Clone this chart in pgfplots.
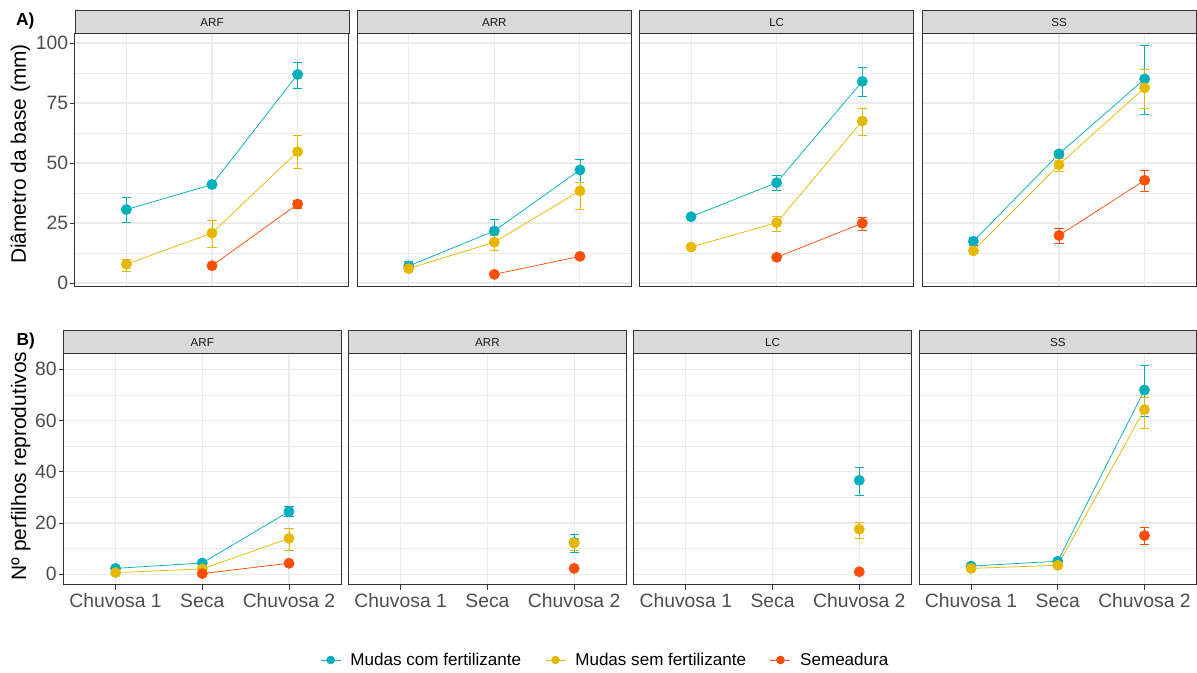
\documentclass[border=0pt]{standalone}
\usepackage{pgfplots}
\pgfplotsset{compat=1.18}
\usepackage{fontspec}
\setmainfont{Liberation Sans}

\definecolor{cTeal}{HTML}{00AFBB}
\definecolor{cGold}{HTML}{E7B800}
\definecolor{cRed}{HTML}{FC4E07}
\definecolor{gridgray}{HTML}{EBEBEB}
\definecolor{framegray}{HTML}{333333}
\definecolor{stripgray}{HTML}{D9D9D9}
\definecolor{ticktext}{HTML}{4D4D4D}

\pgfplotsset{
  facet/.style={
    scale only axis, anchor=south west,
    xmin=0.4, xmax=3.6, xtick={1,2,3},
    grid=both, minor y tick num=1,
    major grid style={draw=gridgray, line width=0.8pt},
    minor grid style={draw=gridgray, line width=0.45pt},
    axis line style={draw=framegray, line width=0.75pt},
    tick align=outside, major tick length=3.5pt, minor tick length=0pt,
    tick style={draw=framegray, line width=0.6pt},
    tick pos=left,
    ticklabel style={font=\fontsize{14.5}{16}\selectfont, text=ticktext},
    xticklabel style={inner sep=2.5pt, text height=10.6pt, text depth=3pt},
    yticklabel style={inner sep=1.5pt},
    /pgf/number format/assume math mode=true,
    clip=false,
  },
  toprow/.style={facet, width=205.5pt, height=189.75pt,
    ymin=-1.67, ymax=103.75, ytick={0,25,50,75,100},
    xticklabels={}, xtick style={draw=none}},
  botrow/.style={facet, width=208.125pt, height=173.25pt,
    ymin=-4.18, ymax=85.97, ytick={0,20,40,60,80},
    xticklabels={Chuvosa 1, Seca, Chuvosa 2}},
  inner/.style={yticklabels={}, ytick style={draw=none}},
  ser/.style={color=#1, line width=0.55pt, mark=*, mark size=3.9pt,
    mark options={fill=#1, draw=#1, line width=0.3pt}, forget plot,
    error bars/y dir=both, error bars/y explicit,
    error bars/error bar style={color=#1, line width=0.6pt},
    error bars/error mark options={rotate=90, mark size=3.4pt, line width=0.6pt, color=#1}},
}

% mean with upper (ep) and lower (em) error for each treatment
\newcommand\treat[2]{\addplot[ser=#1] table[row sep=\\, x=x, y=y, y error plus=ep, y error minus=em] {#2};}

\begin{document}
\begin{tikzpicture}
\useasboundingbox (0,0) rectangle (897.75pt,504.75pt);

% ---------------- A) basal diameter ----------------
\begin{axis}[toprow, at={(56.25pt,289.5pt)}]
\treat{cTeal}{x y ep em\\ 1 30.6 5.1 5.3\\ 2 41.0 0.8 0.8\\ 3 86.9 5.0 5.8\\}
\treat{cGold}{x y ep em\\ 1 7.8 2.2 2.8\\ 2 20.8 5.3 5.8\\ 3 54.7 6.8 6.9\\}
\treat{cRed}{x y ep em\\ 2 7.2 0.6 0.6\\ 3 32.9 1.7 1.8\\}
\end{axis}

\begin{axis}[toprow, inner, at={(268pt,289.5pt)}]
\treat{cTeal}{x y ep em\\ 1 7.1 1.7 1.5\\ 2 21.7 4.8 4.6\\ 3 47.1 4.6 5.0\\}
\treat{cGold}{x y ep em\\ 1 6.0 1.2 1.2\\ 2 17.0 2.9 3.5\\ 3 38.4 3.7 7.6\\}
\treat{cRed}{x y ep em\\ 2 3.6 0.5 0.5\\ 3 11.1 0.8 0.8\\}
\end{axis}

\begin{axis}[toprow, inner, at={(479.75pt,289.5pt)}]
\treat{cTeal}{x y ep em\\ 1 27.6 0.8 0.8\\ 2 41.8 2.9 3.2\\ 3 84.0 5.8 6.3\\}
\treat{cGold}{x y ep em\\ 1 15.0 0.8 0.8\\ 2 25.1 2.8 3.4\\ 3 67.5 5.3 5.8\\}
\treat{cRed}{x y ep em\\ 2 10.7 0.8 0.8\\ 3 24.9 2.4 2.9\\}
\end{axis}

\begin{axis}[toprow, inner, at={(691.5pt,289.5pt)}]
\treat{cTeal}{x y ep em\\ 1 17.4 1.7 1.7\\ 2 53.8 1.0 1.0\\ 3 85.0 14.0 14.7\\}
\treat{cGold}{x y ep em\\ 1 13.4 1.0 1.0\\ 2 49.3 2.5 2.8\\ 3 81.3 7.6 8.5\\}
\treat{cRed}{x y ep em\\ 2 19.8 2.8 3.2\\ 3 42.8 4.0 4.5\\}
\end{axis}

% ---------------- B) reproductive tillers ----------------
\begin{axis}[botrow, at={(47.625pt,66pt)},
  legend image code/.code={\draw[#1] (0pt,0pt) -- (15pt,0pt); \fill[#1] (7.5pt,0pt) circle (2.9pt);},
  legend style={at={(1.9514,-0.3247)}, anchor=center, draw=none, fill=none,
    legend columns=3, font=\fontsize{12.8}{14}\selectfont,
    nodes={inner sep=1pt, text=black},
    /tikz/every odd column/.append style={column sep=6pt},
    /tikz/every even column/.append style={column sep=17pt}},
  legend cell align=left]
\treat{cTeal}{x y ep em\\ 1 2.3 0.5 0.5\\ 2 4.4 0.6 0.6\\ 3 24.5 1.9 2.0\\}
\treat{cGold}{x y ep em\\ 1 0.65 0.4 0.4\\ 2 2.1 0.5 0.5\\ 3 14.0 3.8 4.5\\}
\treat{cRed}{x y ep em\\ 2 0.26 0.2 0.2\\ 3 4.3 0.5 0.5\\}
\addlegendimage{color=cTeal, line width=0.6pt}
\addlegendentry{Mudas com fertilizante}
\addlegendimage{color=cGold, line width=0.6pt}
\addlegendentry{Mudas sem fertilizante}
\addlegendimage{color=cRed, line width=0.6pt}
\addlegendentry{Semeadura}
\end{axis}

\begin{axis}[botrow, inner, at={(261.5pt,66pt)}]
\treat{cTeal}{x y ep em\\ 3 12.4 3.2 3.8\\}
\treat{cGold}{x y ep em\\ 3 12.2 1.8 2.7\\}
\treat{cRed}{x y ep em\\ 3 2.3 0.3 0.3\\}
\end{axis}

\begin{axis}[botrow, inner, at={(475.35pt,66pt)}]
\treat{cTeal}{x y ep em\\ 3 36.7 5.2 5.9\\}
\treat{cGold}{x y ep em\\ 3 17.6 2.6 3.6\\}
\treat{cRed}{x y ep em\\ 3 1.0 0.3 0.3\\}
\end{axis}

\begin{axis}[botrow, inner, at={(689.25pt,66pt)}]
\treat{cTeal}{x y ep em\\ 1 3.2 0.6 0.6\\ 2 5.1 1.0 1.0\\ 3 71.9 9.7 10.4\\}
\treat{cGold}{x y ep em\\ 1 2.3 0.4 0.4\\ 2 3.5 0.6 0.6\\ 3 64.3 4.6 7.3\\}
\treat{cRed}{x y ep em\\ 3 15.1 3.1 3.3\\}
\end{axis}

% facet strips
\tikzset{strip/.style={fill=stripgray, draw=framegray, line width=0.75pt},
         striplab/.style={font=\fontsize{8.7}{10}\selectfont, text=black!90}}
\foreach \l/\t in {56.25/ARF, 268/ARR, 479.75/LC, 691.5/SS}{
  \draw[strip] (\l pt,479.25pt) rectangle ++(205.5pt,17.25pt);
  \node[striplab] at ({\l pt+102.75pt},487.875pt) {\t};
}
\foreach \l/\t in {47.625/ARF, 261.5/ARR, 475.35/LC, 689.25/SS}{
  \draw[strip] (\l pt,239.25pt) rectangle ++(208.125pt,17.25pt);
  \node[striplab] at ({\l pt+104.06pt},247.875pt) {\t};
}

% panel tags and axis titles
\node[anchor=west, font=\bfseries\fontsize{13}{15}\selectfont] at (8.5pt,489pt) {A)};
\node[anchor=west, font=\bfseries\fontsize{13}{15}\selectfont] at (9pt,249.2pt) {B)};
\node[rotate=90, font=\fontsize{15.7}{18}\selectfont] at (15.375pt,389.25pt) {Diâmetro da base (mm)};
\node[rotate=90, font=\fontsize{15.7}{18}\selectfont] at (15.6pt,155.25pt) {Nº perfilhos reprodutivos};
\end{tikzpicture}
\end{document}
